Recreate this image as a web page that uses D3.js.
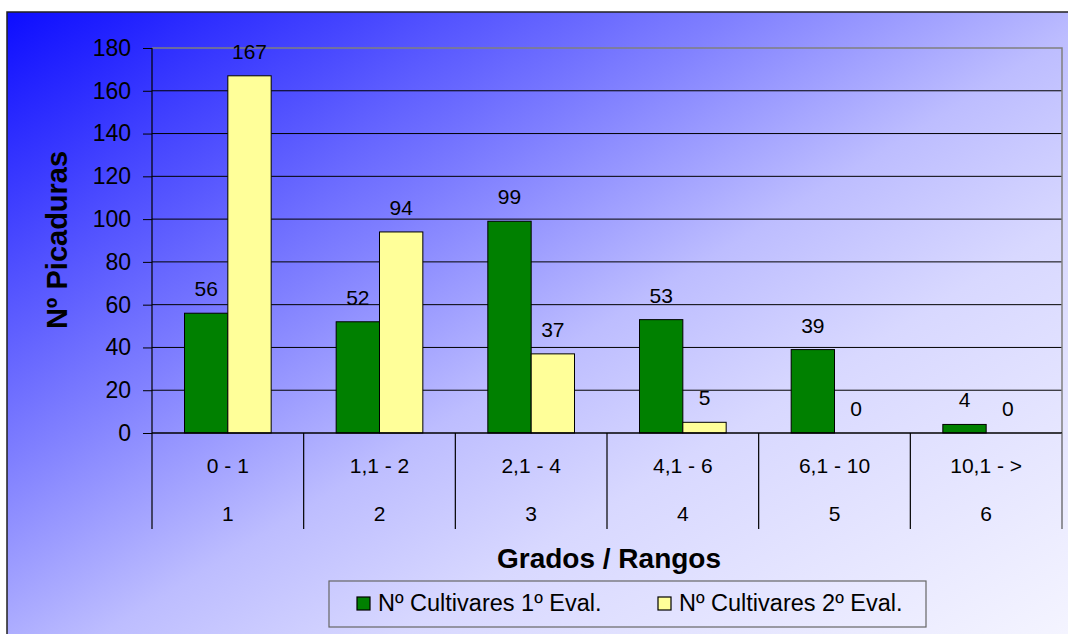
<!DOCTYPE html>
<html>
<head>
<meta charset="utf-8">
<script src="https://cdn.jsdelivr.net/npm/d3@7/dist/d3.min.js"></script>
<style>
html,body{margin:0;padding:0;background:#fff;}
svg{display:block;font-family:"Liberation Sans",Arial,sans-serif;}
</style>
</head>
<body>
<svg id="chart" width="1068" height="634"></svg>
<script>
const categories = ["0 - 1", "1,1 - 2", "2,1 - 4", "4,1 - 6", "6,1 - 10", "10,1 - >"];
const grades = ["1", "2", "3", "4", "5", "6"];
const seriesNames = ["Nº Cultivares 1º Eval.", "Nº Cultivares 2º Eval."];
const eval1 = [56, 52, 99, 53, 39, 4];
const eval2 = [167, 94, 37, 5, 0, 0];
const yTicks = [0, 20, 40, 60, 80, 100, 120, 140, 160, 180];
const colors = ["#008000", "#ffff99"];

const svg = d3.select("#chart");
const W = 1068, H = 634;
const plot = {left: 152, right: 1062, top: 48, bottom: 433};

// background gradient
const defs = svg.append("defs");
const grad = defs.append("linearGradient").attr("id", "bg")
  .attr("gradientUnits", "userSpaceOnUse")
  .attr("x1", 7).attr("y1", 12).attr("x2", 604).attr("y2", 978);
[[0, "#0d0dff"], [0.34, "#8080ff"], [0.51, "#bdbdff"], [0.65, "#d8d8ff"], [1, "#f8f8ff"]]
  .forEach(([o, c]) => grad.append("stop").attr("offset", o).attr("stop-color", c));

svg.append("rect").attr("x", 7).attr("y", 12).attr("width", W).attr("height", H)
  .attr("fill", "url(#bg)").attr("stroke", "#222").attr("stroke-width", 1.5);

const x = d3.scaleBand().domain(categories).range([plot.left, plot.right]).padding(0);
const xs = d3.scaleBand().domain([0, 1]).range([0, x.bandwidth()]).paddingInner(0).paddingOuter(0.75);
const y = d3.scaleLinear().domain([0, 180]).range([plot.bottom, plot.top]);

// gridlines
svg.append("g").selectAll("line").data(yTicks.filter(t => t > 0 && t < 180)).join("line")
  .attr("x1", plot.left).attr("x2", plot.right)
  .attr("y1", d => y(d)).attr("y2", d => y(d))
  .attr("stroke", "#000").attr("stroke-width", 1);

// plot border top / right (gray)
svg.append("path")
  .attr("d", `M${plot.left},${y(180)}H${plot.right}V${plot.bottom}`)
  .attr("fill", "none").attr("stroke", "#808080").attr("stroke-width", 1.5);

// bars
const data = categories.map((c, i) => ({c, vals: [eval1[i], eval2[i]]}));
const groups = svg.append("g").selectAll("g").data(data).join("g")
  .attr("transform", d => `translate(${x(d.c)},0)`);
groups.selectAll("rect").data(d => d.vals.map((v, s) => ({v, s}))).join("rect")
  .attr("x", d => xs(d.s)).attr("width", xs.bandwidth())
  .attr("y", d => y(d.v)).attr("height", d => y(0) - y(d.v))
  .attr("fill", d => colors[d.s]).attr("stroke", "#000").attr("stroke-width", 1);
groups.selectAll("text").data(d => d.vals.map((v, s) => ({v, s}))).join("text")
  .attr("x", d => xs(d.s) + xs.bandwidth() / 2)
  .attr("y", d => y(d.v) - 17)
  .attr("text-anchor", "middle").attr("font-size", 21).attr("fill", "#000")
  .text(d => d.v);

// y axis
const yAxis = d3.axisLeft(y).tickValues(yTicks).tickSize(9).tickPadding(12);
const gy = svg.append("g").attr("transform", `translate(${plot.left},0)`).call(yAxis);
gy.select(".domain").remove();
gy.selectAll(".tick line").attr("stroke", "#000");
gy.selectAll(".tick text").attr("font-size", 23).attr("fill", "#000")
  .attr("font-family", "'Liberation Sans',Arial,sans-serif");
svg.append("line").attr("x1", plot.left).attr("x2", plot.left)
  .attr("y1", plot.top).attr("y2", 529).attr("stroke", "#000").attr("stroke-width", 1.2);

// zero line
svg.append("line").attr("x1", plot.left).attr("x2", plot.right)
  .attr("y1", y(0)).attr("y2", y(0)).attr("stroke", "#000").attr("stroke-width", 1.5);

// category separators
const bounds = categories.map(c => x(c)).concat([plot.right]).slice(1);
svg.append("g").selectAll("line").data(bounds).join("line")
  .attr("x1", d => d).attr("x2", d => d)
  .attr("y1", y(0)).attr("y2", 529)
  .attr("stroke", (d, i) => i === bounds.length - 1 ? "#555" : "#000").attr("stroke-width", 1.2);

// category labels
svg.append("g").selectAll("text").data(categories).join("text")
  .attr("x", d => x(d) + x.bandwidth() / 2).attr("y", 473)
  .attr("text-anchor", "middle").attr("font-size", 21).text(d => d);
svg.append("g").selectAll("text").data(grades).join("text")
  .attr("x", (d, i) => x(categories[i]) + x.bandwidth() / 2).attr("y", 521)
  .attr("text-anchor", "middle").attr("font-size", 21).text(d => d);

// axis titles
svg.append("text").attr("x", 609).attr("y", 568).attr("text-anchor", "middle")
  .attr("font-size", 28).attr("font-weight", "bold").text("Grados / Rangos");
svg.append("text").attr("transform", "translate(67,240) rotate(-90)")
  .attr("text-anchor", "middle").attr("font-size", 29).attr("font-weight", "bold")
  .text("Nº Picaduras");

// legend
svg.append("rect").attr("x", 329).attr("y", 581).attr("width", 597).attr("height", 46)
  .attr("fill", "none").attr("stroke", "#666").attr("stroke-width", 1.2);
const legX = [357, 658];
const leg = svg.append("g").selectAll("g").data(seriesNames).join("g")
  .attr("transform", (d, i) => `translate(${legX[i]},0)`);
leg.append("rect").attr("x", 0).attr("y", 597).attr("width", 13).attr("height", 13)
  .attr("fill", (d, i) => colors[i]).attr("stroke", "#000").attr("stroke-width", 1.2);
leg.append("text").attr("x", 21).attr("y", 611).attr("font-size", 23.5).text(d => d);
</script>
</body>
</html>
